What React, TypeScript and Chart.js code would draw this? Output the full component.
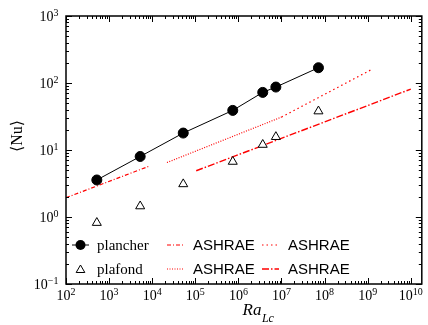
import React, { useEffect, useRef } from "react";
import { Chart, registerables } from "chart.js";
Chart.register(...registerables);

// ---- data ----
const raValues = [519, 5260, 52500, 7.4e5, 3.67e6, 7.4e6, 7.2e7];
const nuPlancher = [3.57, 8.0, 17.9, 39, 72.4, 87, 169];
const nuPlafond = [0.82, 1.45, 3.1, 6.7, 12, 15.7, 37.9];

const ashrae1Ra = [100, 8300];
const ashrae1Nu = [1.94, 5.7];
const ashrae2Ra = [2.2e4, 1e7];
const ashrae2Nu = [6.5, 31];
const ashrae3Ra = [1e7, 1.3e9];
const ashrae3Nu = [31, 162];
const ashrae4Ra = [1.05e5, 1e10];
const ashrae4Nu = [4.9, 81];

const xDecades = [2, 3, 4, 5, 6, 7, 8, 9, 10];
const yDecades = [-1, 0, 1, 2, 3];
const xMin = 1e2;
const xMax = 1.8e10;
const yMin = 0.1;
const yMax = 1000;

const legendLabels = ["plancher", "plafond", "ASHRAE", "ASHRAE", "ASHRAE", "ASHRAE"];
const xTitleMain = "Ra";
const xTitleSub = "Lc";
const yTitle = "\u27E8Nu\u27E9";

const RED = "#ff0000";
const dash1 = [4, 2, 1, 2];
const dash2 = [1, 1.5];
const dash3 = [1.5, 3];
const dash4 = [7, 2, 1.5, 2];

const SERIF = "'Liberation Serif', 'DejaVu Serif', serif";
const SANS = "'Liberation Sans', Arial, sans-serif";

const pts = (xs: number[], ys: number[]) => xs.map((x, i) => ({ x, y: ys[i] }));

const supText = (n: number) => (n < 0 ? "\u2212" + Math.abs(n) : String(n));

const axesPlugin = {
  id: "customAxes",
  afterDraw(chart: any) {
    const ctx = chart.ctx as CanvasRenderingContext2D;
    const { left, right, top, bottom } = chart.chartArea;
    const xs = chart.scales.x;
    const ys = chart.scales.y;
    ctx.save();
    ctx.setLineDash([]);
    ctx.strokeStyle = "#000";
    // ticks
    ctx.lineWidth = 1;
    ctx.beginPath();
    for (const d of xDecades.concat([1])) {
      for (let m = 1; m <= 9; m++) {
        const v = m * Math.pow(10, d);
        if (v < xMin || v > xMax) continue;
        const px = Math.round(xs.getPixelForValue(v)) + 0.5;
        const len = m === 1 ? 6 : 3;
        ctx.moveTo(px, bottom);
        ctx.lineTo(px, bottom - len);
        ctx.moveTo(px, top);
        ctx.lineTo(px, top + len);
      }
    }
    for (const d of yDecades) {
      for (let m = 1; m <= 9; m++) {
        const v = m * Math.pow(10, d);
        if (v < yMin || v > yMax) continue;
        const py = Math.round(ys.getPixelForValue(v)) + 0.5;
        const len = m === 1 ? 6 : 3;
        ctx.moveTo(left, py);
        ctx.lineTo(left + len, py);
        ctx.moveTo(right, py);
        ctx.lineTo(right - len, py);
      }
    }
    ctx.stroke();
    // frame
    ctx.lineWidth = 1.5;
    ctx.strokeRect(left, top, right - left, bottom - top);

    // tick labels
    ctx.fillStyle = "#000";
    ctx.textBaseline = "alphabetic";
    const baseFont = `14px ${SERIF}`;
    const supFont = `10px ${SERIF}`;
    for (const d of xDecades) {
      const px = xs.getPixelForValue(Math.pow(10, d));
      ctx.font = baseFont;
      const w1 = ctx.measureText("10").width;
      ctx.font = supFont;
      const s = supText(d);
      const w2 = ctx.measureText(s).width;
      const x0 = px - (w1 + w2) / 2;
      ctx.textAlign = "left";
      ctx.font = baseFont;
      ctx.fillText("10", x0, 300);
      ctx.font = supFont;
      ctx.fillText(s, x0 + w1, 294.5);
    }
    for (const d of yDecades) {
      const py = ys.getPixelForValue(Math.pow(10, d));
      ctx.font = supFont;
      const s = supText(d);
      const w2 = ctx.measureText(s).width;
      ctx.font = baseFont;
      const w1 = ctx.measureText("10").width;
      const xr = 58.5;
      ctx.textAlign = "left";
      ctx.fillText("10", xr - w2 - w1, py + 5);
      ctx.font = supFont;
      ctx.fillText(s, xr - w2, py - 0.5);
    }

    // x title
    ctx.textAlign = "left";
    ctx.font = `italic 17px ${SERIF}`;
    const wRa = ctx.measureText(xTitleMain).width;
    ctx.fillText(xTitleMain, 242.5, 315);
    ctx.font = `italic 12px ${SERIF}`;
    ctx.fillText(xTitleSub, 242.5 + wRa + 0.5, 322);

    // y title
    ctx.save();
    ctx.translate(18, 136);
    ctx.rotate(-Math.PI / 2);
    ctx.font = `16px ${SERIF}`;
    ctx.textAlign = "center";
    ctx.textBaseline = "middle";
    ctx.fillText(yTitle, 0, 0);
    ctx.restore();

    // legend
    const rows = [245, 269];
    const drawLine = (x1: number, x2: number, y: number, color: string, dash: number[], lw: number) => {
      ctx.beginPath();
      ctx.setLineDash(dash);
      ctx.strokeStyle = color;
      ctx.lineWidth = lw;
      ctx.moveTo(x1, y);
      ctx.lineTo(x2, y);
      ctx.stroke();
      ctx.setLineDash([]);
    };
    ctx.textBaseline = "middle";
    ctx.textAlign = "left";
    // plancher
    drawLine(72, 89, rows[0], "#000", [], 1);
    ctx.beginPath();
    ctx.fillStyle = "#000";
    ctx.arc(80.5, rows[0], 5, 0, Math.PI * 2);
    ctx.fill();
    ctx.font = `15px ${SERIF}`;
    ctx.fillText(legendLabels[0], 97, rows[0] + 1);
    // plafond
    const r = 5;
    const cx = 80.5;
    const cy = rows[1] + 1;
    ctx.beginPath();
    ctx.moveTo(cx, cy - r);
    ctx.lineTo(cx + r * Math.sin(Math.PI / 3), cy + r * 0.5);
    ctx.lineTo(cx - r * Math.sin(Math.PI / 3), cy + r * 0.5);
    ctx.closePath();
    ctx.fillStyle = "#fff";
    ctx.fill();
    ctx.strokeStyle = "#000";
    ctx.lineWidth = 1;
    ctx.stroke();
    ctx.fillStyle = "#000";
    ctx.fillText(legendLabels[1], 97, rows[1] + 1);
    // ASHRAE entries
    ctx.font = `15px ${SANS}`;
    drawLine(167, 184, rows[0], RED, dash1, 1.2);
    ctx.fillStyle = "#000";
    ctx.fillText(legendLabels[2], 193, rows[0] + 1);
    drawLine(167, 184, rows[1], RED, dash2, 1.2);
    ctx.fillStyle = "#000";
    ctx.fillText(legendLabels[3], 193, rows[1] + 1);
    drawLine(262, 279, rows[0], RED, dash3, 1.2);
    ctx.fillStyle = "#000";
    ctx.fillText(legendLabels[4], 288, rows[0] + 1);
    drawLine(262, 279, rows[1], RED, dash4, 1.4);
    ctx.fillStyle = "#000";
    ctx.fillText(legendLabels[5], 288, rows[1] + 1);

    ctx.restore();
  },
};

export default function App() {
  const ref = useRef<HTMLCanvasElement | null>(null);
  useEffect(() => {
    document.body.style.margin = "0";
    const canvas = ref.current;
    if (!canvas) return;
    const lineDs = (label: string, xs: number[], ys: number[], dash: number[], lw: number) => ({
      label,
      data: pts(xs, ys),
      borderColor: RED,
      borderWidth: lw,
      borderDash: dash,
      pointRadius: 0,
      showLine: true,
      fill: false,
      order: 5,
    });
    const chart = new Chart(canvas, {
      type: "scatter",
      data: {
        datasets: [
          {
            label: legendLabels[0],
            data: pts(raValues, nuPlancher),
            borderColor: "#000",
            backgroundColor: "#000",
            borderWidth: 1,
            showLine: true,
            pointRadius: 5,
            pointStyle: "circle",
            pointBackgroundColor: "#000",
            pointBorderColor: "#000",
            order: 1,
          },
          {
            label: legendLabels[1],
            data: pts(raValues, nuPlafond),
            showLine: false,
            pointStyle: "triangle",
            pointRadius: 5.2,
            pointBackgroundColor: "#fff",
            pointBorderColor: "#000",
            pointBorderWidth: 1,
            order: 1,
          },
          lineDs(legendLabels[2], ashrae1Ra, ashrae1Nu, dash1, 1.2),
          lineDs(legendLabels[3], ashrae2Ra, ashrae2Nu, dash2, 1.2),
          lineDs(legendLabels[4], ashrae3Ra, ashrae3Nu, dash3, 1.2),
          lineDs(legendLabels[5], ashrae4Ra, ashrae4Nu, dash4, 1.4),
        ] as any,
      },
      options: {
        animation: false,
        responsive: false,
        devicePixelRatio: 1,
        layout: { padding: { left: 66, top: 16, right: 1, bottom: 41 } },
        plugins: { legend: { display: false }, tooltip: { enabled: false }, title: { display: false } },
        scales: {
          x: { type: "logarithmic", min: xMin, max: xMax, display: false },
          y: { type: "logarithmic", min: yMin, max: yMax, display: false },
        },
      } as any,
      plugins: [axesPlugin],
    });
    return () => chart.destroy();
  }, []);
  return <canvas ref={ref} width={428} height={325} style={{ display: "block" }} />;
}
